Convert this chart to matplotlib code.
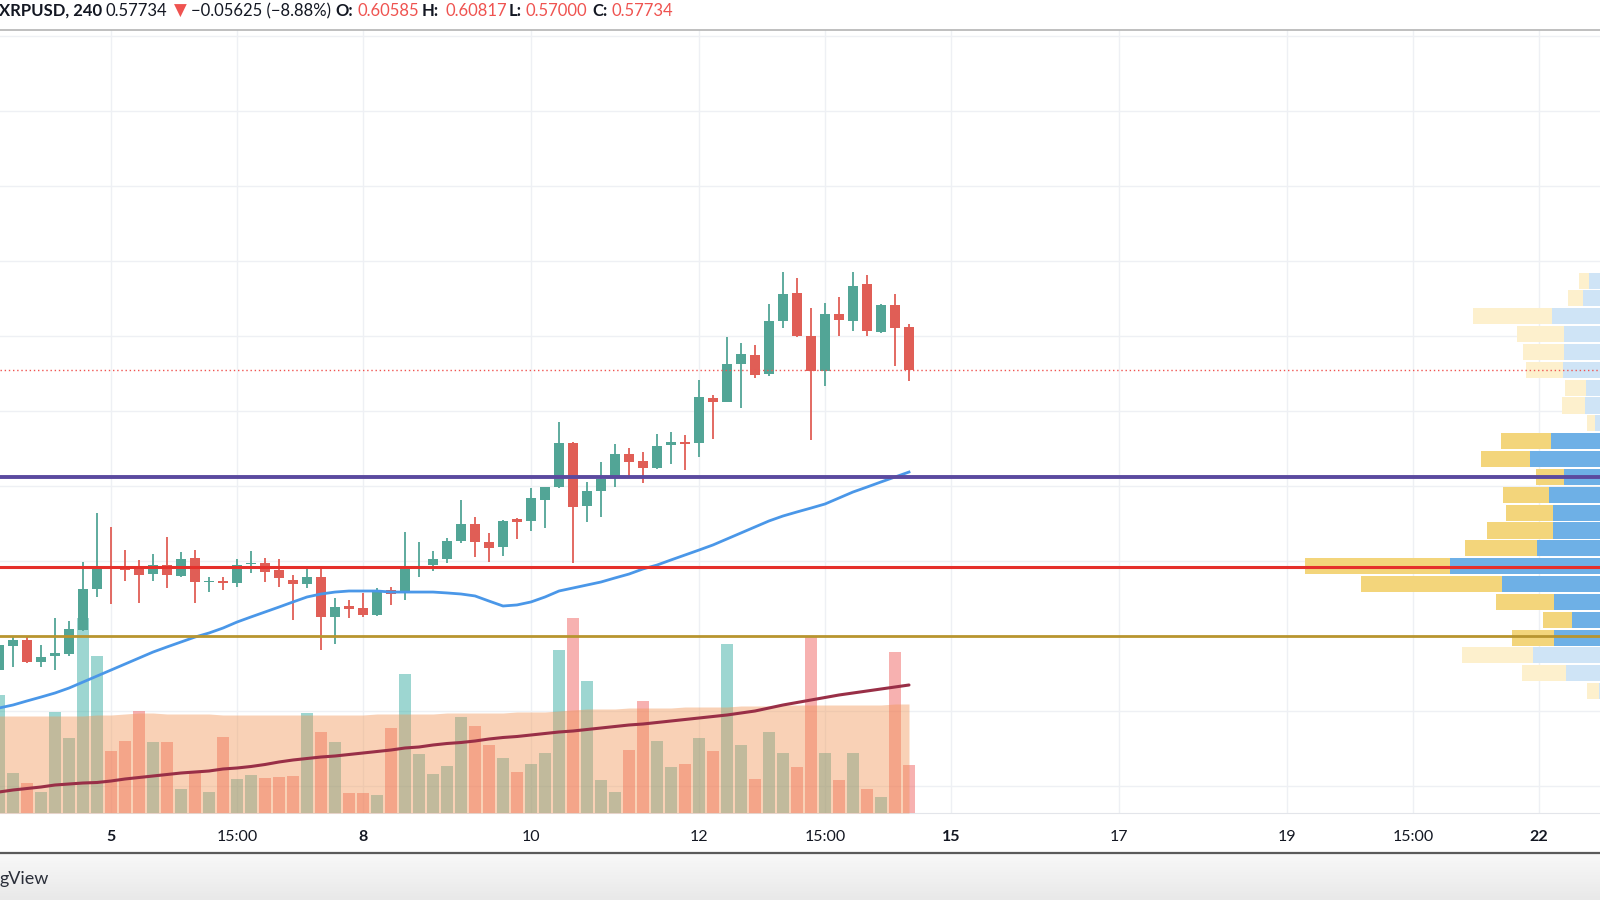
import numpy as np
import matplotlib
matplotlib.use('Agg')
import matplotlib.pyplot as plt
from matplotlib.lines import Line2D

plt.rcParams['font.family'] = ['Lato', 'DejaVu Sans']

# ---------------- data (4h candles, XRPUSD) ----------------
opens = [0.3773, 0.3933, 0.3973, 0.3827, 0.3867, 0.3880, 0.4040, 0.4313, 0.4460, 0.4460,
         0.4460, 0.4413, 0.4473, 0.4400, 0.4520, 0.4360, 0.4367, 0.4353, 0.4480, 0.4487,
         0.4440, 0.4373, 0.4347, 0.4393, 0.4127, 0.4200, 0.4187, 0.4140, 0.4307, 0.4287,
         0.4453, 0.4473, 0.4513, 0.4633, 0.4747, 0.4627, 0.4593, 0.4780, 0.4767, 0.4907,
         0.4993, 0.5287, 0.4867, 0.4967, 0.5053, 0.5213, 0.5167, 0.5120, 0.5273, 0.5293,
         0.5287, 0.5587, 0.5560, 0.5813, 0.5873, 0.5747, 0.6100, 0.6287, 0.6000, 0.5767,
         0.6147, 0.6100, 0.6347, 0.6027, 0.6207, 0.60585]
highs = [0.3953, 0.4000, 0.3993, 0.3940, 0.4120, 0.4100, 0.4493, 0.4820, 0.4727, 0.4573,
         0.4507, 0.4547, 0.4660, 0.4560, 0.4573, 0.4393, 0.4393, 0.4513, 0.4567, 0.4520,
         0.4513, 0.4407, 0.4453, 0.4453, 0.4253, 0.4240, 0.4287, 0.4320, 0.4327, 0.4693,
         0.4627, 0.4567, 0.4653, 0.4907, 0.4793, 0.4687, 0.4773, 0.4787, 0.4987, 0.4993,
         0.5427, 0.5293, 0.5027, 0.5160, 0.5280, 0.5253, 0.5227, 0.5347, 0.5360, 0.5340,
         0.5707, 0.5607, 0.5993, 0.5953, 0.5940, 0.6213, 0.6427, 0.6387, 0.6187, 0.6220,
         0.6260, 0.6427, 0.6407, 0.6213, 0.6280, 0.60817]
lows = [0.3760, 0.3793, 0.3820, 0.3793, 0.3773, 0.3867, 0.4033, 0.4260, 0.4213, 0.4367,
        0.4220, 0.4367, 0.4320, 0.4393, 0.4220, 0.4293, 0.4307, 0.4327, 0.4420, 0.4360,
        0.4327, 0.4107, 0.4320, 0.3907, 0.3947, 0.4120, 0.4127, 0.4133, 0.4207, 0.4240,
        0.4393, 0.4433, 0.4487, 0.4620, 0.4527, 0.4493, 0.4533, 0.4647, 0.4700, 0.4720,
        0.4987, 0.4487, 0.4760, 0.4793, 0.4993, 0.5067, 0.5020, 0.5113, 0.5147, 0.5107,
        0.5193, 0.5313, 0.5560, 0.5520, 0.5720, 0.5733, 0.6053, 0.5995, 0.5307, 0.5667,
        0.6000, 0.6033, 0.6000, 0.6020, 0.5800, 0.57000]
closes = [0.3940, 0.3973, 0.3827, 0.3860, 0.3887, 0.4047, 0.4313, 0.4453, 0.4447, 0.4440,
          0.4407, 0.4473, 0.4407, 0.4513, 0.4360, 0.4367, 0.4353, 0.4473, 0.4487, 0.4427,
          0.4387, 0.4347, 0.4393, 0.4127, 0.4193, 0.4180, 0.4140, 0.4293, 0.4280, 0.4453,
          0.4467, 0.4513, 0.4633, 0.4747, 0.4627, 0.4587, 0.4767, 0.4760, 0.4920, 0.4993,
          0.5287, 0.4860, 0.4967, 0.5047, 0.5213, 0.5160, 0.5120, 0.5267, 0.5293, 0.5280,
          0.5593, 0.5560, 0.5813, 0.5880, 0.5740, 0.6100, 0.6280, 0.6000, 0.5767, 0.6147,
          0.6107, 0.6333, 0.6033, 0.6207, 0.6053, 0.57734]
price_ma = [0.3520, 0.3540, 0.3567, 0.3593, 0.3620, 0.3653, 0.3693, 0.3733, 0.3773, 0.3813,
            0.3853, 0.3893, 0.3927, 0.3960, 0.3993, 0.4020, 0.4053, 0.4093, 0.4127, 0.4160,
            0.4193, 0.4227, 0.4260, 0.4280, 0.4293, 0.4300, 0.4300, 0.4300, 0.4293, 0.4293,
            0.4293, 0.4293, 0.4287, 0.4280, 0.4267, 0.4233, 0.4200, 0.4207, 0.4227, 0.4260,
            0.4300, 0.4320, 0.4340, 0.4360, 0.4387, 0.4413, 0.4447, 0.4473, 0.4507, 0.4540,
            0.4573, 0.4607, 0.4647, 0.4687, 0.4727, 0.4767, 0.4800, 0.4827, 0.4853, 0.4880,
            0.4920, 0.4960, 0.4993, 0.5027, 0.5060, 0.5093]
volumes = [118, 40, 30, 21, 101, 75, 195, 157, 62, 72,
           102, 71, 71, 24, 40, 21, 76, 34, 38, 35,
           36, 37, 100, 81, 71, 20, 20, 18, 85, 139,
           59, 39, 47, 96, 87, 68, 55, 41, 49, 60,
           163, 195, 132, 33, 21, 63, 112, 72, 46, 49,
           75, 62, 169, 68, 34, 81, 60, 46, 176, 60,
           33, 60, 24, 16, 161, 48]
volume_ma = [21, 23, 24.5, 26, 28, 29, 30, 30.5, 32, 34,
             35.5, 37, 38.5, 40, 41, 42, 44, 45, 46.5, 48.5,
             51, 53, 54.5, 56, 57, 58.5, 60, 61.5, 63, 65,
             66, 68, 69.5, 70.5, 72, 74, 75.5, 76.5, 78, 79.5,
             81, 82, 83.5, 85, 86.5, 88, 89, 90.5, 92, 93.5,
             95, 96.5, 98, 100, 102, 105, 108, 110.5, 113, 115.5,
             118, 120, 122, 124, 126, 128]
volume_band = [97, 97, 97, 97, 97, 97, 97, 98, 98, 99,
               100, 100, 99, 99, 99, 99, 98, 98, 98, 98,
               98, 98, 98, 98, 98, 98, 98, 99, 99, 99,
               99, 99, 100, 100, 100, 100, 100, 101, 101, 101,
               102, 103, 104, 104, 104, 105, 105, 105, 105, 106,
               106, 106, 106, 107, 107, 107, 108, 108, 108, 108,
               108, 108, 108, 108, 109, 109]

# visible range volume profile, rows from top (high price) to bottom
vp_top, vp_bottom = 0.6429, 0.3573
vp_up = [11, 16.7, 48.3, 36, 36, 36.7, 14.3, 15, 5, 49, 70, 36,
         51, 46.7, 47.3, 63.3, 150, 98.3, 45.7, 27.7, 46, 66.7, 34, 1]
vp_down = [10, 15, 78.4, 46.7, 41, 37, 20.7, 22.7, 7.7, 50, 48.7, 28,
           45.7, 47.6, 65.4, 72, 145, 140.7, 58.3, 29.6, 41.7, 71.3, 43.7, 11.7]
vp_value_area = [False] * 9 + [True] * 12 + [False] * 3

# horizontal levels
level_purple = 0.5058
level_red = 0.4462
level_gold = 0.4000
last_close = 0.57734

tick_pos = [8, 17, 26, 38, 50, 59, 68, 80, 92, 101, 110]
tick_labels = ['5', '15:00', '8', '10', '12', '15:00', '15', '17', '19', '15:00', '22']
bold_labels = ['5', '8', '15', '22']
grid_levels = [0.30, 0.35, 0.40, 0.45, 0.50, 0.55, 0.60, 0.65, 0.70, 0.75, 0.80]

# ---------------- figure ----------------
fig = plt.figure(figsize=(16, 9), dpi=100)
fig.patch.set_facecolor('white')

pane = [0, 87 / 900, 1, 783 / 900]
xlim = (1 / 14, 1601 / 14)
ylim = (0.282, 0.804)
idx = np.arange(len(opens))

ax_grid = fig.add_axes(pane, zorder=0)
ax_vol = fig.add_axes(pane, zorder=1)
ax_vp = fig.add_axes(pane, zorder=2)
ax = fig.add_axes(pane, zorder=3)
for a in (ax_grid, ax_vol, ax_vp, ax):
    for s in a.spines.values():
        s.set_visible(False)
for a in (ax_vol, ax_vp, ax):
    a.patch.set_alpha(0)
    a.set_xticks([])
    a.set_yticks([])

# grid + time axis
ax_grid.set_xlim(*xlim)
ax_grid.set_ylim(*ylim)
ax_grid.set_xticks(tick_pos)
ax_grid.set_xticklabels(tick_labels)
ax_grid.set_yticks(grid_levels)
ax_grid.tick_params(axis='y', left=False, labelleft=False)
ax_grid.tick_params(axis='x', length=0, pad=12.5, labelsize=11.5, labelcolor='#131722')
for lab in ax_grid.get_xticklabels():
    if lab.get_text() in bold_labels:
        lab.set_fontweight('bold')
ax_grid.grid(True, color='#eef0f4', lw=1)
ax_grid.spines['bottom'].set_visible(True)
ax_grid.spines['bottom'].set_color('#e3e5ea')

# volume pane
up = np.array(closes) >= np.array(opens)
vcol = ['#26a69a' if u else '#ef5350' for u in up]
ax_vol.set_xlim(*xlim)
ax_vol.set_ylim(0, 783)
ax_vol.bar(idx, volumes, width=0.86, color=vcol, alpha=0.45, lw=0)
ax_vol.fill_between(idx, 0, volume_band, color='#f29657', alpha=0.43, lw=0)
ax_vol.plot(idx, volume_ma, color='#992f47', lw=2.2, solid_capstyle='round')

# volume profile
ax_vp.set_xlim(1600, 0)
ax_vp.set_ylim(*ylim)
n = len(vp_up)
step = (vp_top - vp_bottom) / n
centers = vp_top - step * (np.arange(n) + 0.5)
for c, u, d, va in zip(centers, vp_up, vp_down, vp_value_area):
    cu = '#6eb0e6' if va else '#cfe4f6'
    cd = '#f3d57b' if va else '#fdf0cd'
    ax_vp.barh(c, u, left=0, height=step * 0.9, color=cu, lw=0)
    ax_vp.barh(c, d, left=u, height=step * 0.9, color=cd, lw=0)

# price pane
ax.set_xlim(*xlim)
ax.set_ylim(*ylim)
green, red = '#52a596', '#e05e56'
for i in idx:
    o, h, l, c = opens[i], highs[i], lows[i], closes[i]
    col = green if c >= o else red
    ax.vlines(i, l, h, color=col, lw=1.3, zorder=3)
    body = max(abs(c - o), 0.0008)
    ax.bar(i, body, bottom=min(o, c), width=0.72, color=col, lw=0, zorder=4)

ax.plot(idx, price_ma, color='#4a97e8', lw=2.0, zorder=5)
ax.axhline(level_purple, color='#5b4a9f', lw=2.8, zorder=6)
ax.axhline(level_red, color='#e5302b', lw=2.2, zorder=6)
ax.axhline(level_gold, color='#b8952f', lw=2.0, zorder=6)
ax.axhline(last_close, color='#ef5350', lw=1.0, ls=(0, (1, 2)), zorder=6)

# header
hy = 1 - 11 / 900
pieces = [(-1, 'XRPUSD, 240', '#131722', 'bold'),
          (106, '0.57734', '#131722', 'normal'),
          (174, '▼', '#ef5350', 'normal'),
          (191, '−0.05625 (−8.88%)', '#131722', 'normal'),
          (335, 'O:', '#131722', 'bold'), (357, '0.60585', '#ef5350', 'normal'),
          (422, 'H:', '#131722', 'bold'), (446, '0.60817', '#ef5350', 'normal'),
          (509, 'L:', '#131722', 'bold'), (525, '0.57000', '#ef5350', 'normal'),
          (592, 'C:', '#131722', 'bold'), (612, '0.57734', '#ef5350', 'normal')]
for x, t, c, w in pieces:
    fig.text(x / 1600, hy, t, color=c, fontweight=w, fontsize=12,
             ha='left', va='center', family=['Lato', 'DejaVu Sans'])
fig.add_artist(Line2D([0, 1], [1 - 30 / 900] * 2, transform=fig.transFigure,
                      color='#b4b4b4', lw=1.2))

# bottom strip
fig.add_artist(Line2D([0, 1], [1 - 853 / 900] * 2, transform=fig.transFigure,
                      color='#5a5a5a', lw=1.6))
ax_bot = fig.add_axes([0, 0, 1, 46 / 900], zorder=0)
grad = np.linspace(0, 1, 50).reshape(-1, 1)
ax_bot.imshow(grad, aspect='auto', cmap=matplotlib.colors.LinearSegmentedColormap.from_list(
    'g', ['#f8f8f8', '#e9e9e9']), extent=[0, 1, 0, 1])
ax_bot.axis('off')
fig.text(0, 1 - 879 / 900, 'gView', fontsize=13, color='#2a2e39', ha='left', va='center')

fig.savefig('out.png', dpi=100)
